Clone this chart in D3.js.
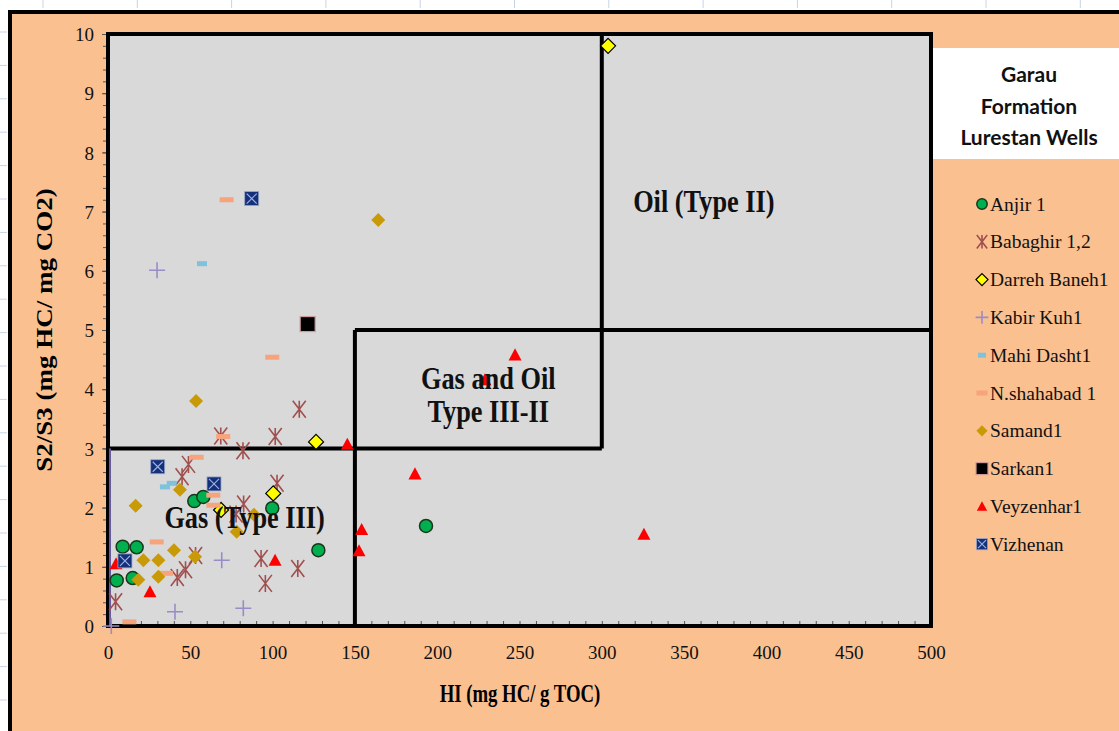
<!DOCTYPE html>
<html>
<head>
<meta charset="utf-8">
<script src="https://cdn.jsdelivr.net/npm/d3@7"></script>
<style>
  body { margin: 0; background: #fff; }
  .tick text { font-family: "Liberation Serif", "DejaVu Serif", serif; fill: #111; }
</style>
</head>
<body>
<div id="chart"></div>
<script>
// well data: [HI, S2/S3]
const anjir = [[5.3,0.77],[8.9,1.34],[15.0,0.81],[17.4,1.33],[52.4,2.11],[57.9,2.18],[99.8,1.99],[127.8,1.28],[193.2,1.69]];
const babaghir = [[116.2,3.66],[68.5,3.21],[101.6,3.20],[82.0,2.96],[48.9,2.73],[45.0,2.52],[102.7,2.41],[82.4,2.06],[77.8,1.89],[93.0,1.14],[115.3,0.97],[95.6,0.72],[47.1,0.95],[42.1,0.82],[53.2,1.19],[4.6,0.41]];
const darrehBaneh = [[303.8,9.8],[126.4,3.11],[100.4,2.24],[68.7,1.96]];
const kabirKuh = [[29.8,6.01],[69.1,1.11],[40.7,0.24],[82.2,0.30],[2,0]];
const mahiDasht = [[57.1,6.12],[34.6,2.35],[38.7,2.41]];
const nShahabad = [[72.1,7.20],[99.8,4.54],[70.0,3.20],[53.9,2.85],[64.0,2.21],[64.0,2.04],[29.6,1.42],[35.2,0.89],[13.0,0.07]];
const samand = [[164.2,6.86],[53.5,3.80],[43.7,2.30],[16.8,2.03],[88.7,1.88],[78.2,1.59],[40.1,1.28],[30.6,1.11],[21.5,1.11],[52.9,1.17],[30.6,0.83],[18.4,0.78]];
const sarkan = [[121.3,5.10]];
const veyzenhar = [[247.3,4.58],[229.0,4.16],[145.4,3.07],[186.5,2.57],[154.1,1.63],[152.5,1.27],[325.6,1.55],[101.5,1.11],[25.5,0.58],[4.9,1.05]];
const vizhenan = [[87.3,7.22],[30.2,2.69],[64.4,2.40],[10.3,1.10]];

const seriesNames = ["Anjir 1","Babaghir 1,2","Darreh Baneh1","Kabir Kuh1","Mahi Dasht1","N.shahabad 1","Samand1","Sarkan1","Veyzenhar1","Vizhenan"];
const seriesData = [anjir, babaghir, darrehBaneh, kabirKuh, mahiDasht, nShahabad, samand, sarkan, veyzenhar, vizhenan];

// field boundaries
const boundaries = [[[0,3],[300,3]], [[150,0],[150,5]], [[150,5],[500,5]], [[300,3],[300,10]]];
const axisSegment = [[0,0],[0,3]];

const regionLabels = [
  {lines: ["Oil (Type II)"], x: 362, y: 7.0},
  {lines: ["Gas and Oil", "Type III-II"], x: 231, y: 4.0},
  {lines: ["Gas (Type III)"], x: 83, y: 1.65}
];
const titleLines = ["Garau", "Formation", "Lurestan Wells"];

const W = 1119, H = 731;
const plot = {left: 108, right: 931, top: 34, bottom: 626};

const svg = d3.select("#chart").append("svg")
  .attr("width", W).attr("height", H)
  .style("display", "block");

// spreadsheet cell gridline stubs behind the chart
svg.selectAll(".gx").data(d3.range(43, W, 94.3)).enter().append("line")
  .attr("x1", d => d).attr("x2", d => d).attr("y1", 0).attr("y2", 8)
  .attr("stroke", "#c9d3e6").attr("stroke-width", 1);
svg.selectAll(".gy").data(d3.range(32, H, 33.4)).enter().append("line")
  .attr("x1", 0).attr("x2", 7).attr("y1", d => d).attr("y2", d => d)
  .attr("stroke", "#c9d3e6").attr("stroke-width", 1);

// chart area
svg.append("rect")
  .attr("x", 10).attr("y", 12).attr("width", 1200).attr("height", 800)
  .attr("fill", "#FAC090").attr("stroke", "#000").attr("stroke-width", 4);

const x = d3.scaleLinear().domain([0, 500]).range([plot.left, plot.right]);
const y = d3.scaleLinear().domain([0, 10]).range([plot.bottom, plot.top]);

svg.append("rect")
  .attr("x", plot.left).attr("y", plot.top)
  .attr("width", plot.right - plot.left).attr("height", plot.bottom - plot.top)
  .attr("fill", "#D9D9D9");

// y axis: minor ticks every 0.2, labels every 1
svg.append("g")
  .attr("transform", `translate(${plot.left},0)`)
  .call(d3.axisLeft(y).tickValues(d3.range(0, 10.001, 0.2)).tickSize(5).tickFormat(""))
  .call(g => g.select(".domain").remove())
  .call(g => g.selectAll("line").attr("stroke", "#555"));
svg.append("g")
  .attr("transform", `translate(${plot.left},0)`)
  .call(d3.axisLeft(y).tickValues(d3.range(0, 11, 1)).tickSize(6).tickPadding(8))
  .call(g => g.select(".domain").remove())
  .call(g => g.selectAll("line").attr("stroke", "#555"))
  .call(g => g.selectAll("text").style("font-size", "19px").attr("dy", "0.35em"));

// x axis: inner ticks every 10, labels every 50
svg.append("g")
  .attr("transform", `translate(0,${plot.bottom})`)
  .call(d3.axisBottom(x).tickValues(d3.range(0, 501, 10)).tickSize(-5).tickFormat(""))
  .call(g => g.select(".domain").remove())
  .call(g => g.selectAll("line").attr("stroke", "#555"));
svg.append("g")
  .attr("transform", `translate(0,${plot.bottom})`)
  .call(d3.axisBottom(x).tickValues(d3.range(0, 501, 50)).tickSize(0).tickPadding(20))
  .call(g => g.select(".domain").remove())
  .call(g => g.selectAll("text").style("font-size", "19px"));

// plot border and field boundaries
svg.append("rect")
  .attr("x", plot.left).attr("y", plot.top)
  .attr("width", plot.right - plot.left).attr("height", plot.bottom - plot.top)
  .attr("fill", "none").attr("stroke", "#000").attr("stroke-width", 4);

const line = d3.line().x(d => x(d[0])).y(d => y(d[1]));
svg.selectAll(".boundary").data(boundaries).enter().append("path")
  .attr("class", "boundary")
  .attr("d", line)
  .attr("stroke", "#000").attr("stroke-width", 4).attr("fill", "none");
svg.append("path")
  .attr("d", line(axisSegment))
  .attr("transform", "translate(2,0)")
  .attr("stroke", "#6a5a9e").attr("stroke-width", 2).attr("fill", "none");

// marker painters
function drawMarker(g, i, s) {
  // s = scale factor (legend markers are smaller)
  switch (i) {
    case 0:
      g.append("circle").attr("r", 6.5 * s).attr("fill", "#00B050").attr("stroke", "#183818").attr("stroke-width", 1.5);
      break;
    case 1: {
      const a = 6.5 * s, b = 8.5 * s;
      g.append("path").attr("d", `M${-a},${-b}L${a},${b}M${a},${-b}L${-a},${b}M0,${-b}L0,${b}`)
        .attr("stroke", "#A0504E").attr("stroke-width", 1.6).attr("fill", "none");
      break;
    }
    case 2: {
      const a = 7.5 * s;
      g.append("path").attr("d", `M0,${-a}L${a},0L0,${a}L${-a},0Z`)
        .attr("fill", "#FFFF00").attr("stroke", "#000").attr("stroke-width", 1.2);
      break;
    }
    case 3: {
      const a = 8 * s;
      g.append("path").attr("d", `M${-a},0L${a},0M0,${-a}L0,${a}`)
        .attr("stroke", "#9A8CC6").attr("stroke-width", 1.6).attr("fill", "none");
      break;
    }
    case 4:
      g.append("rect").attr("x", -5 * s).attr("y", -2.5).attr("width", 10 * s).attr("height", 5).attr("fill", "#7FC2DC");
      break;
    case 5:
      g.append("rect").attr("x", -7 * s).attr("y", -2.5).attr("width", 14 * s).attr("height", 5).attr("fill", "#F7A47C");
      break;
    case 6: {
      const a = 7 * s;
      g.append("path").attr("d", `M0,${-a}L${a},0L0,${a}L${-a},0Z`).attr("fill", "#C99A08");
      break;
    }
    case 7: {
      const a = 7.5 * s;
      g.append("rect").attr("x", -a).attr("y", -a).attr("width", 2 * a).attr("height", 2 * a)
        .attr("fill", "#000").attr("stroke", "#D09A9A").attr("stroke-width", 1.2);
      break;
    }
    case 8: {
      const a = 6.5 * s;
      g.append("path").attr("d", `M0,${-a}L${a},${a * 0.85}L${-a},${a * 0.85}Z`).attr("fill", "#FF0000");
      break;
    }
    case 9: {
      const a = 7 * s, c = 5 * s;
      g.append("rect").attr("x", -a).attr("y", -a).attr("width", 2 * a).attr("height", 2 * a)
        .attr("fill", "#14307A").attr("stroke", "#9aa6c8").attr("stroke-width", 0.8);
      g.append("path").attr("d", `M${-c},${-c}L${c},${c}M${c},${-c}L${-c},${c}`)
        .attr("stroke", "#9FB0E0").attr("stroke-width", 1.2);
      break;
    }
  }
}

seriesData.forEach((data, i) => {
  svg.append("g").selectAll("g").data(data).enter().append("g")
    .attr("transform", d => `translate(${x(d[0])},${y(d[1])})`)
    .each(function() { drawMarker(d3.select(this), i, 1); });
});

// region labels
const serif = "'Liberation Serif', 'DejaVu Serif', serif";
regionLabels.forEach(r => {
  r.lines.forEach((t, k) => {
    svg.append("text")
      .attr("transform", `translate(${x(r.x)},${y(r.y) + k * 33}) scale(0.85,1)`)
      .attr("text-anchor", "middle")
      .style("font-family", serif).style("font-weight", "bold").style("font-size", "31px")
      .attr("fill", "#111").text(t);
  });
});

// axis titles
svg.append("text")
  .attr("transform", `translate(520,702) scale(0.75,1)`)
  .attr("text-anchor", "middle")
  .style("font-family", serif).style("font-weight", "bold").style("font-size", "25px")
  .text("HI (mg HC/ g TOC)");
svg.append("text")
  .attr("transform", `translate(52,330) rotate(-90) scale(1,0.85)`)
  .attr("text-anchor", "middle")
  .style("font-family", serif).style("font-weight", "bold").style("font-size", "27px")
  .text("S2/S3 (mg HC/ mg CO2)");

// legend title box
svg.append("rect").attr("x", 933).attr("y", 48).attr("width", 200).attr("height", 111).attr("fill", "#fff");
svg.selectAll(".ttl").data(titleLines).enter().append("text")
  .attr("x", 1029).attr("y", (d, i) => 82 + i * 31.5)
  .attr("text-anchor", "middle")
  .style("font-family", "Lato, 'Open Sans', sans-serif").style("font-weight", "bold").style("font-size", "21px")
  .attr("fill", "#111").text(d => d);

// legend entries
const legend = svg.append("g");
seriesNames.forEach((name, i) => {
  const ly = 204 + i * 37.8;
  const g = legend.append("g").attr("transform", `translate(982,${ly})`);
  drawMarker(g, i, 0.8);
  legend.append("text")
    .attr("x", 990).attr("y", ly + 6.5)
    .style("font-family", serif).style("font-size", "19.5px")
    .attr("fill", "#111").text(name);
});
</script>
</body>
</html>
